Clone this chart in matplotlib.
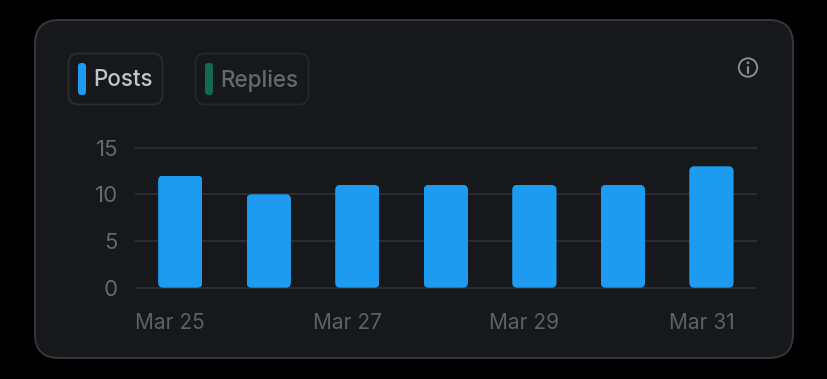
import matplotlib
matplotlib.use("Agg")
import matplotlib.pyplot as plt
from matplotlib.patches import FancyBboxPatch, Circle
from matplotlib.transforms import ScaledTranslation, IdentityTransform

days = ["Mar 25", "Mar 26", "Mar 27", "Mar 28", "Mar 29", "Mar 30", "Mar 31"]
posts = [12, 10, 11, 11, 11, 11, 13]
y_ticks = [0, 5, 10, 15]
x_tick_idx = [0, 2, 4, 6]
legend_names = ["Posts", "Replies"]

W, H = 828, 379
plt.rcParams["font.family"] = ["Inter", "DejaVu Sans"]
fig = plt.figure(figsize=(W / 100, H / 100), dpi=100, facecolor="#000000")

# overlay in pixel coordinates for the card furniture
bg = fig.add_axes([0, 0, 1, 1], zorder=0)
bg.set_xlim(0, W)
bg.set_ylim(H, 0)
bg.axis("off")


def rrect(x0, y0, x1, y1, r, **kw):
    p = FancyBboxPatch((x0 + r, y0 + r), x1 - x0 - 2 * r, y1 - y0 - 2 * r,
                       boxstyle=f"round,pad={r},rounding_size={r}", **kw)
    bg.add_patch(p)
    return p


rrect(35, 20, 793, 358, 24, fc="#17181c", ec="#36373b", lw=1.4)
rrect(68.5, 53.5, 162.5, 104.5, 10, fc="#17181c", ec="#2a2b2f", lw=1.4)
rrect(195.5, 53.5, 308.5, 104.5, 10, fc="#17181c", ec="#25262a", lw=1.4)
rrect(78, 63, 86, 95, 3.5, fc="#1d9bf0", ec="none")
rrect(205, 63, 213, 95, 3.5, fc="#0f6b4c", ec="none")
bg.text(93.5, 80.5, legend_names[0], color="#c3c4c7", fontsize=16.2, va="center", ha="left", fontweight="medium")
bg.text(220.5, 80.5, legend_names[1], color="#67686c", fontsize=16.2, va="center", ha="left", fontweight="medium")

# info icon
bg.add_patch(Circle((748, 67.5), 9.2, fc="none", ec="#8b8c90", lw=1.4))
bg.add_patch(Circle((748, 62.8), 1.4, fc="#8b8c90", ec="none"))
bg.plot([748, 748], [66.5, 73], color="#8b8c90", lw=1.6, solid_capstyle="round")

# chart
ax_l, ax_r, y_top, y_bot = 136, 755.7, 147.6, 287.7
ax = fig.add_axes([ax_l / W, 1 - y_bot / H, (ax_r - ax_l) / W, (y_bot - y_top) / H], zorder=1)
ax.patch.set_alpha(0)
ax.set_xlim(-0.5, 6.5)
ax.set_ylim(0, 15)
for s in ax.spines.values():
    s.set_visible(False)
ax.set_yticks(y_ticks)
ax.set_xticks(x_tick_idx)
ax.set_xticklabels([days[i] for i in x_tick_idx])
ax.grid(axis="y", color="#2b2c30", lw=1.5, zorder=1)
ax.set_axisbelow(True)
for ln in ax.yaxis.get_gridlines():
    ln.set_clip_on(False)
ax.tick_params(axis="y", length=0, pad=13, labelsize=16, labelcolor="#67686c")
ax.tick_params(axis="x", length=0, pad=18, labelsize=15, labelcolor="#5f6064")
shift = ScaledTranslation(-10 / 100, 0, fig.dpi_scale_trans)
for lb in ax.get_xticklabels():
    lb.set_transform(lb.get_transform() + shift)

bars = ax.bar(range(len(days)), posts, width=0.5, color="#1d9bf0", zorder=3)
fig.canvas.draw()
for b in bars:
    ext = b.get_window_extent()
    r = 5
    clip = FancyBboxPatch((ext.x0 + r, ext.y0 + r), ext.width - 2 * r, ext.height - 2 * r,
                          boxstyle=f"round,pad={r},rounding_size={r}",
                          transform=IdentityTransform())
    b.set_clip_path(clip)

fig.savefig("out.png", dpi=100, facecolor=fig.get_facecolor())
